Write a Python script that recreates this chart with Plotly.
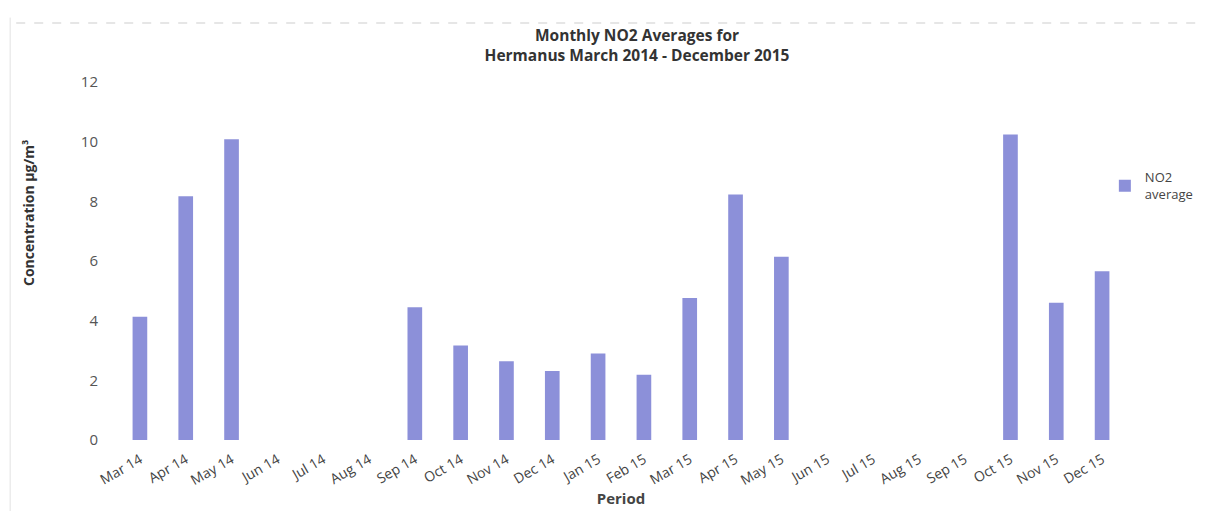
import plotly.graph_objects as go

periods = ["Mar 14", "Apr 14", "May 14", "Jun 14", "Jul 14", "Aug 14", "Sep 14",
           "Oct 14", "Nov 14", "Dec 14", "Jan 15", "Feb 15", "Mar 15", "Apr 15",
           "May 15", "Jun 15", "Jul 15", "Aug 15", "Sep 15", "Oct 15", "Nov 15", "Dec 15"]
no2_average = [4.13, 8.17, 10.08, None, None, None, 4.45,
               3.17, 2.64, 2.31, 2.9, 2.19, 4.76, 8.23,
               6.14, None, None, None, None, 10.24, 4.6, 5.66]
y_ticks = [0, 2, 4, 6, 8, 10, 12]

font_family = "Open Sans, sans-serif"

fig = go.Figure()
fig.add_trace(go.Bar(
    x=periods, y=no2_average, name="NO2<br>average",
    marker=dict(color="#8c90d9", line=dict(width=0)),
))

fig.update_layout(
    width=1212, height=511,
    margin=dict(l=109, r=95, t=74, b=79, autoexpand=False),
    paper_bgcolor="white", plot_bgcolor="white",
    bargap=0.68,
    font=dict(family=font_family, color="#444444", size=13),
    title=dict(
        text="<b>Monthly NO2 Averages for<br>Hermanus March 2014 - December 2015</b>",
        x=0.519, xanchor="center", y=0.935, yanchor="middle",
        font=dict(size=15.5, color="#333333", family=font_family),
    ),
    xaxis=dict(
        tickangle=-30, showgrid=False, showline=False, ticks="",
        ticklabelstandoff=8,
        tickfont=dict(size=14, color="#444444"),
        title=dict(text="<b>Period</b>", font=dict(size=15, color="#444444"), standoff=5),
    ),
    yaxis=dict(
        range=[0, 12], tickvals=y_ticks, showgrid=False, showline=False,
        zeroline=False, ticks="", ticklabelstandoff=18,
        tickfont=dict(size=15, color="#555555"),
    ),
    legend=dict(
        xref="container", x=0.905, y=0.71, xanchor="left", yanchor="middle",
        font=dict(size=13, color="#444444"),
        itemwidth=30,
    ),
    showlegend=True,
)

fig.add_annotation(
    text="<b>Concentration µg/m³</b>", textangle=-90,
    xref="paper", yref="paper", x=-0.088, y=0.635,
    xanchor="center", yanchor="middle",
    showarrow=False, font=dict(size=14, color="#333333"),
)

# faint scan border lines
fig.add_shape(type="line", xref="paper", yref="paper",
              x0=-0.106, x1=-0.106, y0=-0.2, y1=1.18,
              line=dict(color="#e2e2e2", width=1))
fig.add_shape(type="line", xref="paper", yref="paper",
              x0=-0.1, x1=1.09, y0=1.165, y1=1.165,
              line=dict(color="#e6e6e6", width=2, dash="dash"))

fig.write_html("out.html")
